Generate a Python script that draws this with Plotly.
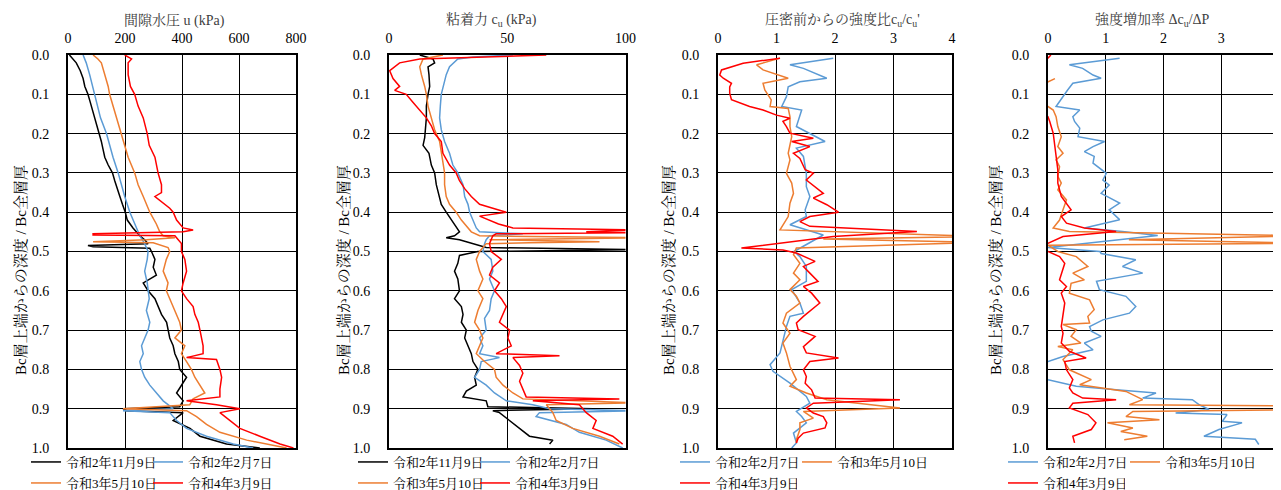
import plotly.graph_objects as go

# ---------------- data (depth ratio d, value) ----------------
SERIES_NAMES = ["令和2年11月9日", "令和2年2月7日", "令和3年5月10日", "令和4年3月9日"]
COLORS = {"black": "#000000", "blue": "#5B9BD5", "orange": "#ED7D31", "red": "#FF0000"}

# Panel 1: pore water pressure u (kPa)
U_BLACK_D = [0.0,0.02,0.04,0.06,0.08,0.10,0.12,0.14,0.16,0.18,0.20,0.22,0.24,0.26,0.28,0.30,0.32,0.34,0.36,0.38,0.40,0.42,0.44,0.46,0.47,0.48,0.485,0.488,0.492,0.50,0.52,0.54,0.56,0.58,0.60,0.62,0.64,0.66,0.68,0.70,0.72,0.74,0.76,0.78,0.80,0.82,0.84,0.86,0.88,0.895,0.90,0.905,0.91,0.93,0.95,0.97,0.99,1.0]
U_BLACK = [5,29,43,53,59,70,78,86,93,100,109,117,123,129,141,156,164,172,182,191,201,208,228,252,269,281,70,88,287,293,305,299,310,264,281,305,316,328,346,351,357,369,375,387,392,416,398,381,404,392,193,205,404,369,428,463,556,673]
U_BLUE_D = [0,0.02,0.05,0.08,0.10,0.13,0.16,0.20,0.23,0.26,0.30,0.33,0.36,0.40,0.43,0.46,0.48,0.50,0.52,0.55,0.58,0.60,0.62,0.65,0.68,0.70,0.72,0.74,0.76,0.78,0.80,0.82,0.84,0.86,0.88,0.90,0.905,0.91,0.93,0.95,0.97,0.99,1.0]
U_BLUE = [53,64,76,86,94,102,114,135,146,158,176,187,199,217,234,252,269,281,278,269,278,281,285,275,287,281,269,258,264,252,258,269,287,310,334,369,193,357,381,416,486,580,650]
U_ORANGE_D = [0,0.01,0.02,0.05,0.08,0.10,0.13,0.16,0.20,0.23,0.26,0.30,0.33,0.36,0.40,0.43,0.45,0.46,0.465,0.47,0.475,0.478,0.49,0.50,0.52,0.55,0.58,0.60,0.62,0.65,0.68,0.70,0.72,0.74,0.76,0.78,0.80,0.82,0.84,0.86,0.875,0.89,0.90,0.905,0.92,0.94,0.96,0.98,1.0]
U_ORANGE = [88,105,117,129,141,146,158,170,187,199,211,234,246,264,287,310,322,334,375,275,88,299,351,357,345,334,351,345,357,375,392,398,375,410,398,416,433,445,463,480,439,427,193,416,451,486,533,627,767]
U_RED_D = [0,0.01,0.02,0.05,0.08,0.10,0.13,0.16,0.20,0.23,0.26,0.30,0.33,0.35,0.36,0.37,0.39,0.40,0.42,0.44,0.445,0.45,0.455,0.458,0.46,0.48,0.50,0.52,0.55,0.58,0.60,0.62,0.64,0.66,0.68,0.70,0.72,0.74,0.76,0.77,0.775,0.80,0.82,0.85,0.87,0.88,0.89,0.90,0.91,0.93,0.95,0.97,0.99,1.0]
U_RED = [199,223,211,211,219,234,246,264,278,285,305,316,328,328,305,322,357,369,381,404,439,404,88,88,375,398,398,410,416,404,398,416,439,445,457,463,469,474,474,416,521,533,539,533,533,416,521,603,533,568,603,673,744,791]

# Panel 2: cohesion cu (kPa)
C_BLACK_D = [0.0,0.01,0.02,0.03,0.05,0.08,0.10,0.13,0.16,0.19,0.21,0.23,0.25,0.28,0.30,0.33,0.36,0.38,0.40,0.42,0.44,0.45,0.46,0.465,0.47,0.48,0.49,0.495,0.498,0.50,0.51,0.53,0.55,0.57,0.60,0.62,0.64,0.66,0.68,0.70,0.72,0.74,0.76,0.78,0.80,0.82,0.84,0.855,0.87,0.88,0.895,0.90,0.905,0.91,0.93,0.95,0.97,0.98,0.99]
C_BLACK = [13,18.6,19.3,16.5,16.9,17.2,16.5,15.8,15.8,15.5,15.1,14.4,16.9,17.9,19.3,20.0,21.1,22.1,24.2,26.3,28.4,29.8,27.7,24.2,29.8,35.5,41.1,105,69.3,37.6,29.8,29.1,27.7,29.1,29.8,27.7,30.6,31.3,30.6,32.7,32.0,33.4,34.8,35.5,37.6,36.2,36.9,32.7,31.3,41.1,41.8,86.2,43.9,46.7,51.0,55.2,59.4,69.3,67.9]
C_BLUE_D = [0.0,0.005,0.01,0.03,0.05,0.08,0.10,0.13,0.16,0.19,0.22,0.25,0.28,0.30,0.33,0.36,0.38,0.40,0.42,0.44,0.45,0.455,0.46,0.47,0.48,0.50,0.52,0.55,0.57,0.60,0.62,0.65,0.67,0.70,0.72,0.74,0.76,0.77,0.78,0.80,0.82,0.84,0.86,0.88,0.89,0.90,0.905,0.91,0.92,0.94,0.96,0.98,1.0]
C_BLUE = [52.4,35.5,29.1,25.6,24.2,23.1,22.1,21.7,21.4,22.1,23.5,25.6,27.0,29.1,31.3,32.0,33.4,34.1,35.5,36.9,38.3,56.6,42.5,41.1,40.4,39.7,43.2,43.9,42.5,44.6,43.2,42.5,40.4,41.1,38.3,39.7,38.3,46.7,39.0,38.3,36.2,41.1,44.6,49.6,60.8,67.9,105,63.6,62.2,74.9,80.5,91.8,98.8]
C_ORANGE_D = [0.0,0.01,0.03,0.05,0.08,0.10,0.13,0.16,0.19,0.22,0.25,0.28,0.30,0.33,0.36,0.38,0.40,0.42,0.44,0.45,0.46,0.465,0.47,0.475,0.478,0.48,0.50,0.52,0.55,0.57,0.60,0.62,0.65,0.68,0.70,0.72,0.74,0.76,0.78,0.80,0.82,0.84,0.86,0.875,0.885,0.89,0.91,0.93,0.95,0.97,0.99]
C_ORANGE = [22.8,14.4,13.0,13.7,15.1,15.8,16.5,17.9,19.3,21.4,22.1,22.8,23.5,23.5,24.2,25.6,28.4,30.6,33.4,34.8,38.3,105,42.5,89.0,59.4,41.1,38.3,36.9,38.3,39.7,37.6,39.7,37.6,36.2,38.3,39.7,38.3,36.9,40.4,44.6,45.3,48.2,52.4,56.6,105,66.5,69.3,70.7,77.7,89.0,97.4]
C_RED_D = [0.0,0.005,0.01,0.02,0.04,0.06,0.08,0.09,0.10,0.12,0.14,0.16,0.18,0.20,0.22,0.25,0.28,0.30,0.32,0.34,0.36,0.38,0.39,0.40,0.41,0.42,0.43,0.44,0.445,0.45,0.452,0.455,0.46,0.48,0.50,0.52,0.54,0.56,0.58,0.60,0.62,0.64,0.66,0.68,0.70,0.72,0.74,0.76,0.765,0.77,0.79,0.81,0.83,0.85,0.87,0.875,0.88,0.89,0.91,0.93,0.95,0.97,0.99]
C_RED = [66.5,38.3,13.0,4.5,0.3,1.7,4.5,2.4,7.3,10.1,13.0,15.8,17.9,19.3,22.1,22.8,25.6,28.4,29.8,32.0,34.8,38.3,43.9,49.6,38.3,42.5,46.3,52.4,105,83.4,105,45.3,43.9,42.5,43.2,47.5,43.9,42.5,46.7,44.6,47.5,49.6,48.2,46.7,51.0,50.3,51.7,45.3,72.1,52.4,55.2,56.6,55.2,56.6,58.0,97.4,60.8,80.5,83.4,87.6,86.2,94.6,98.8]

# Panel 3: strength ratio cu/cu'
R_BLUE_D = [0.008,0.025,0.034,0.059,0.068,0.081,0.106,0.131,0.140,0.182,0.220,0.237,0.258,0.301,0.335,0.360,0.394,0.411,0.432,0.458,0.50,0.513,0.538,0.576,0.597,0.631,0.657,0.665,0.691,0.725,0.758,0.788,0.805,0.835,0.869,0.886,0.907,0.920,0.936,0.962,0.987,1.0]
R_BLUE = [1.97,1.23,1.46,1.86,1.40,1.20,1.17,1.09,1.43,1.34,1.83,1.34,1.46,1.51,1.51,1.57,1.49,1.51,1.23,1.80,1.30,1.40,1.51,1.51,1.26,1.40,1.46,1.23,1.17,1.11,1.06,0.89,0.94,1.23,1.51,1.57,1.34,1.43,1.51,1.29,1.34,1.26]
R_ORANGE_D = [0.008,0.025,0.038,0.059,0.072,0.089,0.114,0.131,0.136,0.157,0.182,0.208,0.25,0.267,0.301,0.326,0.352,0.377,0.411,0.445,0.462,0.468,0.477,0.491,0.508,0.53,0.555,0.572,0.597,0.614,0.631,0.657,0.682,0.708,0.733,0.758,0.792,0.826,0.843,0.86,0.877,0.898,0.907,0.924,0.936,0.953,0.979,0.987]
R_ORANGE = [1.06,0.66,0.77,1.20,0.77,0.80,0.91,0.89,1.20,1.23,1.23,1.26,1.20,1.23,1.17,1.26,1.29,1.23,1.20,1.06,4.5,1.80,4.5,1.34,1.29,1.40,1.29,1.40,1.23,1.34,1.40,1.17,1.11,1.23,1.11,1.17,1.23,1.34,1.23,1.51,1.86,3.11,1.46,1.63,1.40,1.40,1.34,1.34]
R_RED_D = [0.008,0.021,0.038,0.051,0.059,0.072,0.081,0.097,0.114,0.131,0.14,0.153,0.161,0.169,0.182,0.199,0.212,0.22,0.233,0.25,0.263,0.292,0.301,0.318,0.352,0.364,0.381,0.40,0.411,0.424,0.436,0.449,0.462,0.479,0.491,0.496,0.504,0.525,0.538,0.555,0.576,0.589,0.606,0.631,0.657,0.665,0.682,0.699,0.716,0.742,0.758,0.771,0.78,0.801,0.818,0.835,0.852,0.873,0.877,0.886,0.898,0.911,0.92,0.936,0.949,0.962,0.975,0.987]
R_RED = [1.06,0.43,0.06,0.03,0.09,0.23,0.20,0.20,0.23,0.54,0.77,1.0,1.23,1.11,1.17,1.23,1.63,1.26,1.57,1.29,1.40,1.49,1.63,1.51,1.80,1.63,1.86,2.06,1.57,1.40,1.57,3.40,1.97,1.00,0.40,1.11,1.34,1.66,1.46,1.57,1.71,1.46,1.60,1.74,1.51,1.46,1.34,1.37,1.66,1.46,1.51,2.06,1.57,1.46,1.51,1.49,1.60,1.66,3.11,1.63,1.51,1.63,1.80,1.86,1.83,1.46,1.37,1.34]

# Panel 4: strength increase rate Δcu/ΔP
G_BLUE_D = [0.008,0.025,0.034,0.042,0.051,0.059,0.072,0.089,0.106,0.131,0.14,0.157,0.169,0.186,0.208,0.22,0.233,0.246,0.258,0.275,0.301,0.318,0.331,0.352,0.377,0.394,0.419,0.44,0.449,0.459,0.49,0.50,0.505,0.521,0.538,0.555,0.576,0.597,0.614,0.64,0.657,0.674,0.691,0.703,0.716,0.733,0.75,0.767,0.78,0.80,0.826,0.843,0.852,0.86,0.873,0.877,0.89,0.902,0.911,0.915,0.932,0.936,0.953,0.97,0.978,0.991]
G_BLUE = [1.24,0.37,0.60,0.69,0.78,0.92,0.43,0.34,0.26,0.14,0.55,0.43,0.46,0.55,0.52,0.98,0.78,0.63,0.80,0.78,1.01,0.95,1.06,0.92,1.24,1.06,1.24,0.63,1.29,1.90,0.0,0.90,0.92,1.52,1.29,1.64,0.84,0.89,1.35,1.52,1.41,0.95,0.72,0.75,0.92,0.63,0.78,0.26,0.0,-0.3,0.0,0.49,1.18,1.87,1.64,2.50,2.62,2.79,2.21,3.10,3.02,3.36,2.96,2.70,3.59,3.65]
G_ORANGE_D = [0.06,0.068,0.09,0.12,0.131,0.14,0.157,0.182,0.208,0.233,0.25,0.267,0.284,0.309,0.326,0.343,0.369,0.394,0.42,0.44,0.449,0.46,0.47,0.479,0.484,0.50,0.513,0.538,0.555,0.572,0.581,0.606,0.623,0.648,0.665,0.682,0.686,0.699,0.716,0.733,0.742,0.75,0.775,0.801,0.826,0.839,0.856,0.877,0.89,0.893,0.902,0.907,0.92,0.928,0.936,0.949,0.958,0.97,0.979]
G_ORANGE = [0.12,0.0,-0.3,-0.2,0.0,0.09,0.14,0.17,0.23,0.17,0.26,0.14,0.20,0.17,0.23,0.17,0.32,0.26,0.20,0.09,0.37,4.5,1.4,4.5,0.0,0.17,0.49,0.69,0.43,0.63,0.40,0.37,0.72,0.80,0.69,0.72,0.26,0.49,0.40,0.57,0.17,0.43,0.26,0.37,0.75,0.55,1.35,1.64,1.41,4.5,4.5,1.47,1.35,1.93,1.03,1.47,1.26,1.72,1.32]
G_RED_D = [0.0,0.008,0.02,0.15,0.157,0.169,0.199,0.225,0.258,0.292,0.326,0.36,0.394,0.411,0.428,0.44,0.449,0.462,0.479,0.49,0.50,0.513,0.53,0.546,0.572,0.589,0.606,0.631,0.657,0.691,0.708,0.733,0.754,0.771,0.78,0.801,0.826,0.847,0.86,0.873,0.877,0.886,0.898,0.915,0.936,0.953,0.97,0.987]
G_RED = [0.05,0.0,-0.3,-0.1,0.0,0.03,0.09,0.11,0.14,0.17,0.17,0.23,0.40,0.23,0.32,0.63,1.18,0.26,0.0,-0.3,0.0,0.20,0.29,0.26,0.20,0.32,0.23,0.29,0.26,0.23,0.26,0.23,0.37,0.66,0.29,0.32,0.43,0.37,0.43,0.60,1.18,0.43,0.37,0.69,0.83,0.75,0.43,0.46]

X_TITLES = ["間隙水圧 u (kPa)", "粘着力 c<sub>u</sub> (kPa)",
            "圧密前からの強度比c<sub>u</sub>/c<sub>u</sub>'", "強度増加率 Δc<sub>u</sub>/ΔP"]
Y_TITLE = "Bc層上端からの深度 / Bc全層厚"
X_RANGES = [(0, 800, 200), (0, 100, 50), (0, 4, 1), (0, 4, 1)]

# ---------------- layout geometry (screen px; page body adds an 8 px offset) ----------------
OFF = 8
W, H = 1281 - OFF, 490 - OFF
FONT = "'Liberation Serif', 'Times New Roman', 'Noto Serif CJK JP', 'Noto Sans CJK JP', serif"
PANEL_PX = [(68, 296), (389, 625.5), (718, 952), (1048, 1279)]
TOP_PX, BOT_PX = 55, 448
TITLE_X_PX = [174, 492, 842, 1152]
YTITLE_X_PX = [20, 343, 668, 995]
LEG_X_PX = [26, 353, 675, 1003]
LEG_Y_PX = [462, 483]


def fx(px):
    return (px - OFF) / W


def fy(py):
    return 1 - (py - OFF) / H


panels = [
    [("black", U_BLACK_D, U_BLACK), ("blue", U_BLUE_D, U_BLUE), ("orange", U_ORANGE_D, U_ORANGE), ("red", U_RED_D, U_RED)],
    [("black", C_BLACK_D, C_BLACK), ("blue", C_BLUE_D, C_BLUE), ("orange", C_ORANGE_D, C_ORANGE), ("red", C_RED_D, C_RED)],
    [("blue", R_BLUE_D, R_BLUE), ("orange", R_ORANGE_D, R_ORANGE), ("red", R_RED_D, R_RED)],
    [("blue", G_BLUE_D, G_BLUE), ("orange", G_ORANGE_D, G_ORANGE), ("red", G_RED_D, G_RED)],
]
NAME_OF = {"black": SERIES_NAMES[0], "blue": SERIES_NAMES[1], "orange": SERIES_NAMES[2], "red": SERIES_NAMES[3]}

fig = go.Figure()
layout = dict(width=W, height=H, margin=dict(l=0, r=0, t=0, b=0, autoexpand=False),
              paper_bgcolor="white", plot_bgcolor="white",
              font=dict(family=FONT, size=14, color="#000000"), annotations=[])

legend_idx = 0
for p, series in enumerate(panels):
    ax = "" if p == 0 else str(p + 1)
    rows = [series[:2], series[2:]]
    for r, row in enumerate(rows):
        legend_idx += 1
        lname = "legend" if legend_idx == 1 else f"legend{legend_idx}"
        for i, (key, dd, vv) in enumerate(row):
            fig.add_trace(go.Scatter(x=vv, y=dd, mode="lines", name=NAME_OF[key],
                                     line=dict(color=COLORS[key], width=1.5),
                                     xaxis="x" + ax, yaxis="y" + ax, legend=lname,
                                     legendwidth=77 if i == 0 else 130))
        layout[lname] = dict(orientation="h", xref="container", yref="container",
                             x=fx(LEG_X_PX[p]), xanchor="left",
                             y=fy(LEG_Y_PX[r]), yanchor="middle",
                             bgcolor="rgba(0,0,0,0)", font=dict(size=13, family=FONT),
                             itemclick=False)
    x0, x1 = PANEL_PX[p]
    lo, hi, dt = X_RANGES[p]
    layout["xaxis" + ax] = dict(domain=[fx(x0), fx(x1)], range=[lo, hi], dtick=dt, tick0=0,
                                side="top", anchor="y" + ax, showgrid=True, gridcolor="#000000",
                                gridwidth=1, zeroline=False, showline=True, mirror=True,
                                linecolor="#000000", linewidth=2, ticks="", ticklabelstandoff=4,
                                ticklabeloverflow="allow",
                                tickfont=dict(size=14, family=FONT))
    layout["yaxis" + ax] = dict(domain=[fy(BOT_PX), fy(TOP_PX)], range=[1, 0], dtick=0.1,
                                tick0=0, tickformat=".1f", anchor="x" + ax, showgrid=True,
                                gridcolor="#000000", gridwidth=1, zeroline=False, showline=True,
                                mirror=True, linecolor="#000000", linewidth=2, ticks="",
                                ticklabelstandoff=14, tickfont=dict(size=14, family=FONT))
    layout["annotations"].append(dict(text=X_TITLES[p], xref="paper", yref="paper",
                                      x=fx(TITLE_X_PX[p]), y=fy(20), showarrow=False,
                                      xanchor="center", yanchor="middle",
                                      font=dict(size=14, family=FONT, color="#404040")))
    layout["annotations"].append(dict(text=Y_TITLE, xref="paper", yref="paper",
                                      x=fx(YTITLE_X_PX[p]), y=fy(270), showarrow=False,
                                      textangle=-90, xanchor="center", yanchor="middle",
                                      font=dict(size=15, family=FONT)))

fig.update_layout(**layout)
fig.write_html("out.html")
